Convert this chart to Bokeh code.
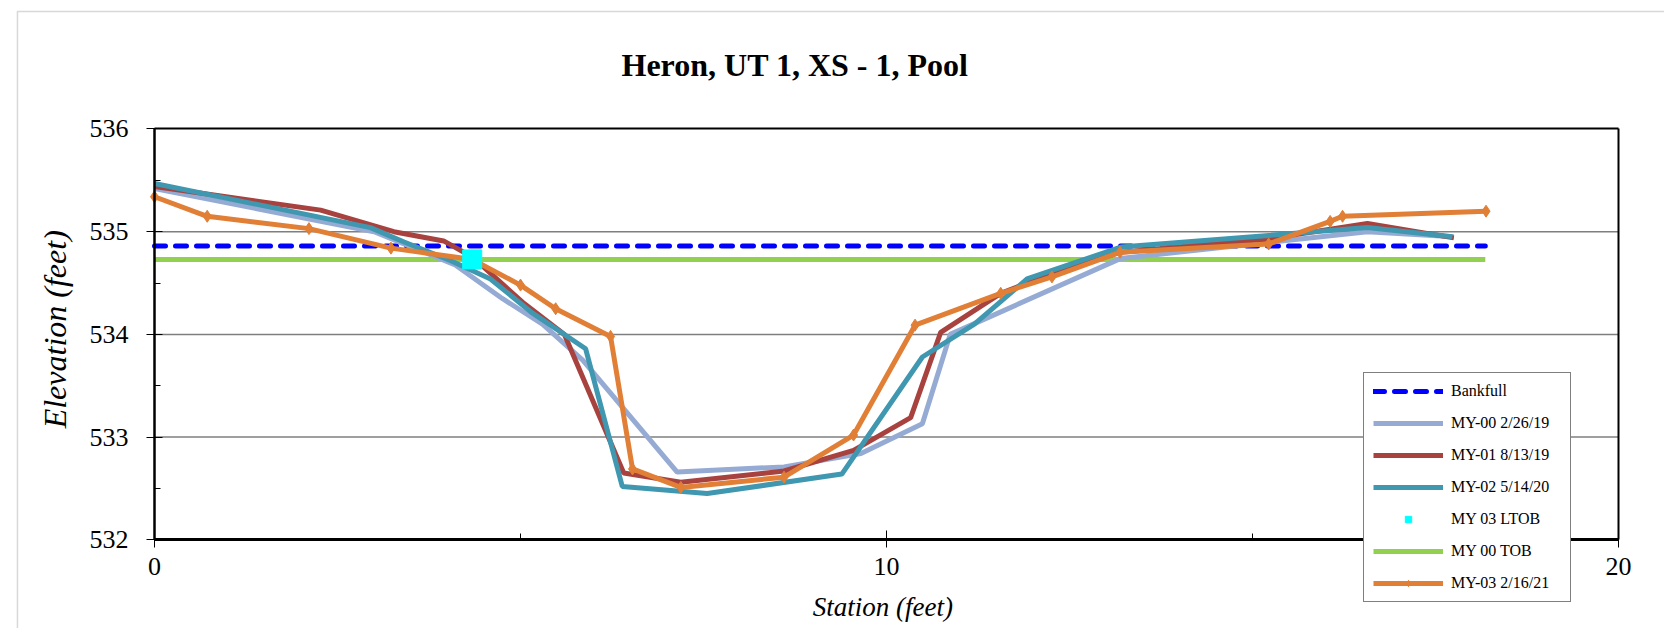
import math
from bokeh.plotting import figure
from bokeh.models import (Legend, LegendItem, FixedTicker, Label, BoxAnnotation, Range1d,
                          LinearAxis)
from bokeh.embed import file_html
from bokeh.resources import INLINE

# ---- data ----
bankfull_x = [0, 18.18]
bankfull_y = [534.86, 534.86]

tob_x = [0, 18.18]
tob_y = [534.73, 534.73]

ltob_x = [4.34]
ltob_y = [534.73]

my00_x = [0, 3.0, 4.1, 4.75, 5.3, 5.85, 7.14, 8.6, 9.65, 10.49, 10.87, 13.2, 16.57, 17.75]
my00_y = [535.42, 535.0, 534.68, 534.35, 534.1, 533.75, 532.66, 532.71, 532.84, 533.13, 534.0, 534.74, 535.0, 534.95]

my01_x = [0, 2.27, 3.27, 3.95, 4.35, 5.05, 5.6, 6.41, 7.19, 8.6, 9.55, 10.33, 10.74, 11.56, 12.3, 13.2, 15.2, 16.57, 17.75]
my01_y = [535.44, 535.21, 535.0, 534.91, 534.75, 534.3, 534.0, 532.65, 532.56, 532.67, 532.87, 533.19, 534.02, 534.4, 534.6, 534.8, 534.93, 535.08, 534.94]

my02_x = [0, 2.95, 3.41, 4.04, 4.59, 5.14, 5.89, 6.39, 7.55, 9.39, 10.49, 11.2, 11.92, 13.2, 16.57, 17.73]
my02_y = [535.47, 535.04, 534.9, 534.72, 534.54, 534.22, 533.86, 532.52, 532.45, 532.64, 533.78, 534.1, 534.54, 534.85, 535.04, 534.95]

my03_x = [0, 0.72, 2.11, 3.23, 4.34, 5.0, 5.48, 6.23, 6.53, 7.19, 8.6, 9.55, 10.39, 11.56, 12.26, 13.19, 15.22, 16.06, 16.23, 18.19]
my03_y = [535.34, 535.15, 535.03, 534.84, 534.73, 534.48, 534.25, 533.98, 532.69, 532.51, 532.61, 533.02, 534.09, 534.40, 534.56, 534.80, 534.88, 535.10, 535.15, 535.20]

x_ticks = [0, 10, 20]
x_minor = [5, 15]
y_ticks = [532, 533, 534, 535, 536]
y_minor = [532.5, 533.5, 534.5, 535.5]

title_text = "Heron, UT 1, XS - 1, Pool"
xlabel_text = "Station (feet)"
ylabel_text = "Elevation (feet)"
legend_labels = ["Bankfull", "MY-00 2/26/19", "MY-01 8/13/19", "MY-02 5/14/20",
                 "MY 03 LTOB", "MY 00 TOB", "MY-03 2/16/21"]

SERIF = "Liberation Serif"

x_lo, x_hi = x_ticks[0], x_ticks[-1]
y_lo, y_hi = y_ticks[0], y_ticks[-1]

# frame covers the whole canvas; data area (0..20, 532..536) sits at the reference position
p = figure(width=1664, height=628, output_backend="svg", toolbar_location=None,
           x_range=Range1d(-2.1038, 20.628), y_range=Range1d(531.1363, 537.2512),
           min_border=0, x_axis_type=None, y_axis_type=None)
p.title.visible = False
p.background_fill_color = "white"
p.border_fill_color = "white"
p.outline_line_color = None
p.xgrid.visible = False
p.ygrid.visible = False


def style_axis(ax, lw):
    ax.axis_line_color = "black"
    ax.axis_line_width = lw
    ax.major_tick_line_color = "black"
    ax.minor_tick_line_color = "black"
    ax.major_tick_line_width = 1
    ax.minor_tick_line_width = 1
    ax.major_label_text_font = SERIF
    ax.major_label_text_font_size = "26px"
    ax.major_label_text_color = "black"


xaxis = LinearAxis(fixed_location=y_lo, bounds=(x_lo, x_hi),
                   ticker=FixedTicker(ticks=x_ticks, minor_ticks=x_minor))
style_axis(xaxis, 3)
xaxis.major_tick_in = 9
xaxis.major_tick_out = 8
xaxis.minor_tick_in = 6
xaxis.minor_tick_out = 0
xaxis.major_label_standoff = 10
p.add_layout(xaxis, "below")

yaxis = LinearAxis(fixed_location=x_lo, bounds=(y_lo, y_hi),
                   ticker=FixedTicker(ticks=y_ticks, minor_ticks=y_minor))
style_axis(yaxis, 2.5)
yaxis.major_tick_in = 8
yaxis.major_tick_out = 8
yaxis.minor_tick_in = 6
yaxis.minor_tick_out = 0
yaxis.major_label_standoff = 18
p.add_layout(yaxis, "left")

# frame top / right borders as plain axes
top_axis = LinearAxis(fixed_location=y_hi, bounds=(x_lo, x_hi), ticker=FixedTicker(ticks=[]))
top_axis.axis_line_width = 2
top_axis.major_label_text_font_size = "0px"
p.add_layout(top_axis, "above")
right_axis = LinearAxis(fixed_location=x_hi, bounds=(y_lo, y_hi), ticker=FixedTicker(ticks=[]))
right_axis.axis_line_width = 2
right_axis.major_label_text_font_size = "0px"
p.add_layout(right_axis, "right")

# horizontal gridlines at the inner y ticks, across the x axis extent
grid_y = y_ticks[1:-1]
p.segment(x0=[x_lo] * len(grid_y), x1=[x_hi] * len(grid_y), y0=grid_y, y1=grid_y,
          line_color="#7F7F7F", line_width=1.5)

# series
r_bank = p.line(bankfull_x, bankfull_y, line_color="#0000FF", line_width=5,
                line_dash="11 10", line_cap="round")
r_tob = p.line(tob_x, tob_y, line_color="#92D050", line_width=5)
r00 = p.line(my00_x, my00_y, line_color="#95ABD4", line_width=5)
r01 = p.line(my01_x, my01_y, line_color="#A8423F", line_width=5)
r02 = p.line(my02_x, my02_y, line_color="#3F97B0", line_width=5)
r03 = p.line(my03_x, my03_y, line_color="#E07F35", line_width=5)
r03m = p.scatter(my03_x, my03_y, marker="diamond", size=12, fill_color="#E07F35",
                 line_color="#E07F35")
r_ltob = p.scatter(ltob_x, ltob_y, marker="square", size=19, fill_color="#00FFFF",
                   line_color="#00FFFF")

legend = Legend(items=[
    LegendItem(label=legend_labels[0], renderers=[r_bank]),
    LegendItem(label=legend_labels[1], renderers=[r00]),
    LegendItem(label=legend_labels[2], renderers=[r01]),
    LegendItem(label=legend_labels[3], renderers=[r02]),
    LegendItem(label=legend_labels[4], renderers=[r_ltob]),
    LegendItem(label=legend_labels[5], renderers=[r_tob]),
    LegendItem(label=legend_labels[6], renderers=[r03, r03m]),
], location=(1363, 26))
legend.label_text_font = SERIF
legend.label_text_font_size = "16px"
legend.label_text_color = "black"
legend.glyph_width = 70
legend.glyph_height = 16
legend.label_height = 16
legend.spacing = 14
legend.padding = 9
legend.margin = 0
legend.label_standoff = 8
legend.label_width = 110
legend.border_line_color = "black"
legend.border_line_width = 1
legend.background_fill_color = "white"
legend.background_fill_alpha = 1
p.add_layout(legend, "center")

# texts
p.add_layout(Label(x=8.75, y=536.625, text=title_text, text_font=SERIF,
                   text_font_size="32px", text_font_style="bold", text_align="center",
                   text_baseline="alphabetic", text_color="black"))
p.add_layout(Label(x=9.95, y=531.345, text=xlabel_text, text_font=SERIF,
                   text_font_size="27px", text_font_style="italic", text_align="center",
                   text_baseline="alphabetic", text_color="black"))
p.add_layout(Label(x=-1.355, y=534.05, text=ylabel_text, text_font=SERIF,
                   text_font_size="32px", text_font_style="italic", text_align="center",
                   text_baseline="middle", angle=math.pi / 2, text_color="black"))

# outer chart border
p.add_layout(BoxAnnotation(left=-1.872, right=40, top=537.144, bottom=500,
                           fill_alpha=0, line_color="#7F7F7F", line_width=1.5))

open("out.html", "w").write(file_html(p, INLINE))
